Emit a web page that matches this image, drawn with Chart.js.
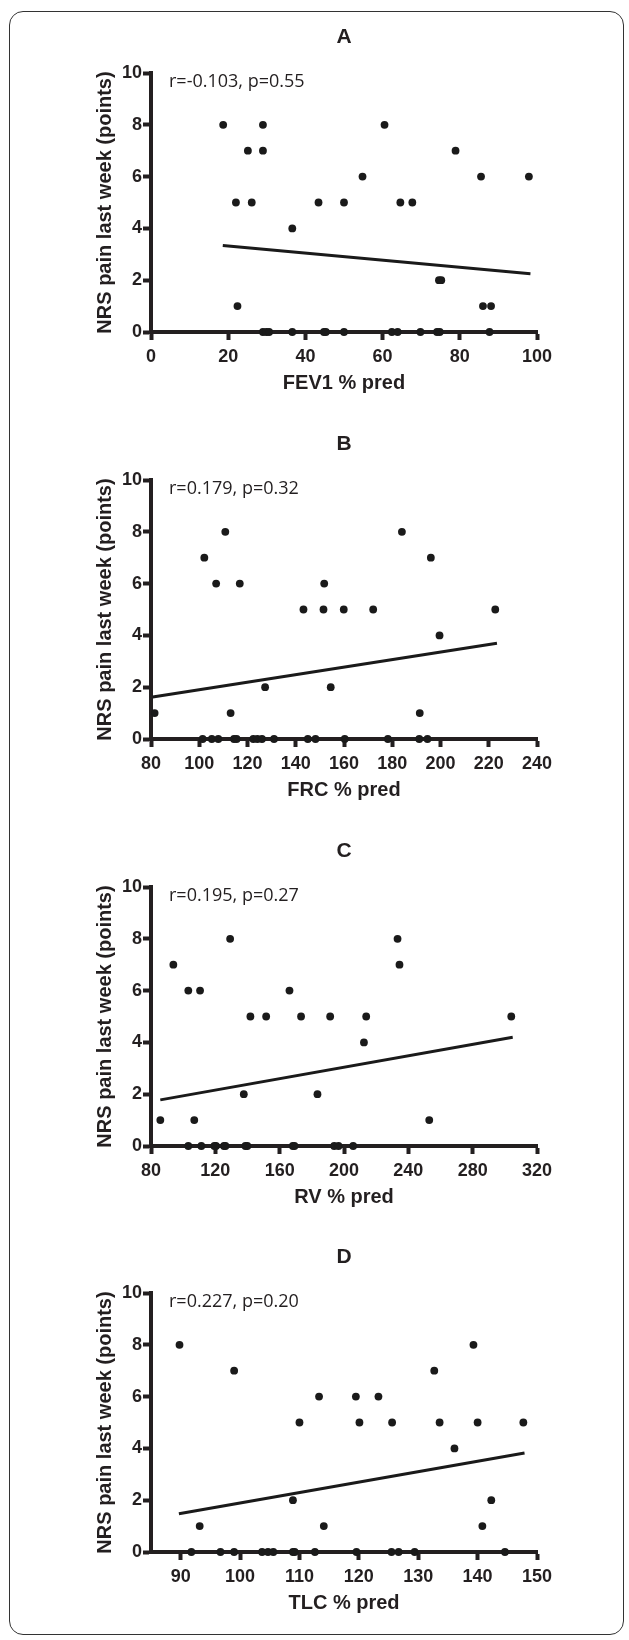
<!DOCTYPE html>
<html>
<head>
<meta charset="utf-8">
<script src="https://cdn.jsdelivr.net/npm/chart.js@4.4.1/dist/chart.umd.min.js"></script>
<style>
body{margin:0;background:#fff;width:629px;height:1640px;position:relative;overflow:hidden}
#bingkai{position:absolute;left:9px;top:11px;width:613px;height:1622px;border:1.5px solid #333;border-radius:14px}
.panel{position:absolute;left:0;width:629px;height:407px}
</style>
</head>
<body>
<div id="bingkai"></div>
<div class="panel" style="top:13px"><canvas id="grafikA"></canvas></div>
<div class="panel" style="top:420px"><canvas id="grafikB"></canvas></div>
<div class="panel" style="top:827px"><canvas id="grafikC"></canvas></div>
<div class="panel" style="top:1233px"><canvas id="grafikD"></canvas></div>
<script>
// sumbu y sama untuk semua panel
const painTicks = [0, 2, 4, 6, 8, 10]
const painLabel = 'NRS pain last week (points)'

// A: FEV1
const fevX = [18.7, 29.0, 60.5, 25.1, 29.0, 78.9, 54.8, 85.5, 97.9, 22.0, 26.1, 43.4, 50.0, 64.6, 67.7, 36.6, 74.6, 75.2, 22.4, 86.0, 88.1,
    29.0, 29.9, 30.6, 36.6, 44.8, 45.3, 50.0, 62.4, 63.9, 69.8, 74.1, 74.8, 87.7]
const fevY = [8, 8, 8, 7, 7, 7, 6, 6, 6, 5, 5, 5, 5, 5, 5, 4, 2, 2, 1, 1, 1,
    0, 0, 0, 0, 0, 0, 0, 0, 0, 0, 0, 0, 0]
const fevTicks = [0, 20, 40, 60, 80, 100]
const fevFit = [[18.6, 3.34], [98.3, 2.25]]

// B: FRC
const frcX = [110.8, 184.0, 102.1, 196.0, 107.0, 116.8, 151.8, 143.2, 151.5, 159.9, 172.1, 222.7, 199.6, 127.3, 154.5, 81.5, 113.0, 191.4,
    101.4, 105.2, 107.9, 114.4, 115.5, 122.4, 124.1, 126.0, 131.0, 145.0, 148.2, 160.3, 178.2, 191.2, 194.6]
const frcY = [8, 8, 7, 7, 6, 6, 6, 5, 5, 5, 5, 5, 4, 2, 2, 1, 1, 1,
    0, 0, 0, 0, 0, 0, 0, 0, 0, 0, 0, 0, 0, 0, 0]
const frcTicks = [80, 100, 120, 140, 160, 180, 200, 220, 240]
const frcFit = [[80.7, 1.62], [223.4, 3.70]]

// C: RV
const rvX = [129.2, 233.3, 93.9, 234.5, 103.2, 110.5, 166.1, 141.8, 151.6, 173.3, 191.4, 213.8, 304.0, 212.4, 137.7, 183.5, 85.8, 106.9, 253.0,
    103.2, 111.3, 119.4, 120.4, 125.4, 126.3, 138.7, 139.9, 168.2, 169.2, 193.9, 196.6, 205.7]
const rvY = [8, 8, 7, 7, 6, 6, 6, 5, 5, 5, 5, 5, 5, 4, 2, 2, 1, 1, 1,
    0, 0, 0, 0, 0, 0, 0, 0, 0, 0, 0, 0, 0]
const rvTicks = [80, 120, 160, 200, 240, 280, 320]
const rvFit = [[85.8, 1.78], [304.9, 4.20]]

// D: TLC
const tlcX = [89.8, 139.3, 99.0, 132.7, 113.3, 119.5, 123.3, 110.0, 120.1, 125.6, 133.6, 140.0, 147.7, 136.1, 108.9, 142.3, 93.2, 114.1, 140.8,
    91.8, 96.7, 99.0, 103.7, 104.7, 105.6, 108.9, 109.2, 112.6, 119.6, 125.5, 126.7, 129.4, 144.6]
const tlcY = [8, 8, 7, 7, 6, 6, 6, 5, 5, 5, 5, 5, 5, 4, 2, 2, 1, 1, 1,
    0, 0, 0, 0, 0, 0, 0, 0, 0, 0, 0, 0, 0, 0, 0]
const tlcTicks = [90, 100, 110, 120, 130, 140, 150]
const tlcFit = [[89.7, 1.48], [147.9, 3.82]]

const warna = '#231f20'
const hurufTebal = '"Liberation Sans", Arial, sans-serif'

// huruf panel dan teks r/p
const teksPanel = {
    id: 'teksPanel',
    afterDraw(chart, args, opts) {
        const {ctx, chartArea} = chart
        ctx.save()
        ctx.fillStyle = warna
        ctx.textBaseline = 'middle'
        ctx.textAlign = 'center'
        ctx.font = 'bold 21px ' + hurufTebal
        ctx.fillText(opts.huruf, (chartArea.left + chartArea.right) / 2, chartArea.top - 36)
        ctx.textAlign = 'left'
        ctx.font = '18px "Open Sans", sans-serif'
        ctx.fillText(opts.teks, chartArea.left + 18, chartArea.top + 9)
        ctx.restore()
    }
}

const sumbu = (judul, min, max, ticks, pad) => ({
    type: 'linear',
    min: min,
    max: max,
    afterBuildTicks: (s) => { s.ticks = ticks.map(v => ({value: v})) },
    grid: {drawOnChartArea: false, drawTicks: true, tickLength: 8, tickWidth: 4, tickColor: warna},
    border: {display: true, width: 4, color: warna},
    ticks: {font: {family: hurufTebal, size: 18, weight: 'bold'}, color: warna, padding: 1, maxRotation: 0, autoSkip: false},
    title: {display: true, text: judul, color: warna, font: {family: hurufTebal, size: 20, weight: 'bold'}, padding: pad}
})

const buatGrafik = (id, huruf, teks, judulX, xs, ys, fit, xMin, xMax, xTicks) => {
    const sx = sumbu(judulX, xMin, xMax, xTicks, {top: 0, bottom: 25})
    sx.ticks.padding = 6
    sx.afterFit = (s) => { s.height = 88 }
    const sy = sumbu(painLabel, 0, 10, painTicks, {top: 13, bottom: 0})
    sy.afterFit = (s) => { s.width = 71 }
    new Chart(document.getElementById(id), {
        type: 'scatter',
        data: {
            datasets: [{
                data: xs.map((x, i) => ({x: x, y: ys[i]})),
                pointRadius: 3.9,
                pointBackgroundColor: '#1a1a1a',
                pointBorderWidth: 0,
                clip: false
            }, {
                type: 'line',
                data: fit.map(p => ({x: p[0], y: p[1]})),
                borderColor: '#1a1a1a',
                borderWidth: 3,
                pointRadius: 0,
                fill: false,
                clip: false
            }]
        },
        options: {
            responsive: true,
            maintainAspectRatio: false,
            animation: false,
            layout: {padding: {top: 60, left: 80, right: 92, bottom: 0}},
            scales: {x: sx, y: sy},
            plugins: {
                legend: {display: false},
                tooltip: {enabled: false},
                teksPanel: {huruf: huruf, teks: teks}
            }
        },
        plugins: [teksPanel]
    })
}

buatGrafik('grafikA', 'A', 'r=-0.103, p=0.55', 'FEV1 % pred', fevX, fevY, fevFit, 0, 100, fevTicks)
buatGrafik('grafikB', 'B', 'r=0.179, p=0.32', 'FRC % pred', frcX, frcY, frcFit, 80, 240, frcTicks)
buatGrafik('grafikC', 'C', 'r=0.195, p=0.27', 'RV % pred', rvX, rvY, rvFit, 80, 320, rvTicks)
buatGrafik('grafikD', 'D', 'r=0.227, p=0.20', 'TLC % pred', tlcX, tlcY, tlcFit, 85, 150, tlcTicks)
</script>
</body>
</html>
